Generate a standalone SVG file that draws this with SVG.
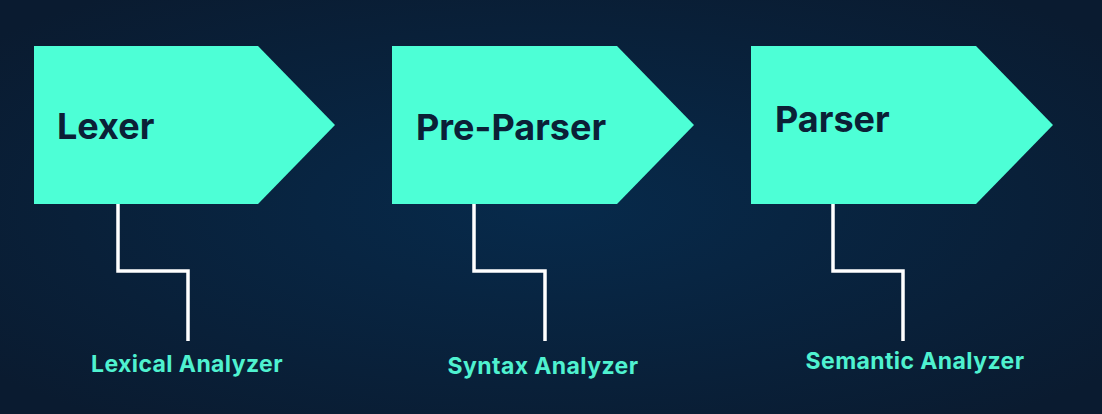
<svg xmlns="http://www.w3.org/2000/svg" width="1102" height="414" viewBox="0 0 1102 414">
<defs>
<radialGradient id="bg" cx="50%" cy="50%" r="65%">
<stop offset="0" stop-color="#072a4b"/>
<stop offset="1" stop-color="#0a1b30"/>
</radialGradient>
<style>
.box{fill:#4dffd6}
.title{font-family:Inter,"Liberation Sans",sans-serif;font-weight:700;font-size:36px;fill:#0b2036}
.sub{font-family:Inter,"Liberation Sans",sans-serif;font-weight:700;font-size:23px;letter-spacing:0.4px;fill:#4ff2d0}
.conn{fill:none;stroke:#ffffff;stroke-width:3.5}
</style>
</defs>
<rect width="1102" height="414" fill="url(#bg)"/>
<g id="connectors">
<path class="conn" d="M118,204 V271 H188 V341"/>
<path class="conn" d="M474,204 V271 H545 V341"/>
<path class="conn" d="M833,204 V271 H903 V341"/>
</g>
<g id="lexer">
<polygon class="box" points="34,46 258,46 335,125 258,204 34,204"/>
<text class="title" x="57" y="139">Lexer</text>
</g>
<g id="preparser">
<polygon class="box" points="392,46 617,46 694,125 617,204 392,204"/>
<text class="title" x="416" y="140">Pre-Parser</text>
</g>
<g id="parser">
<polygon class="box" points="751,46 976,46 1053,125 976,204 751,204"/>
<text class="title" x="775" y="132">Parser</text>
</g>
<g id="lexical">
<text class="sub" x="187" y="372" text-anchor="middle">Lexical Analyzer</text>
</g>
<g id="syntax">
<text class="sub" x="543" y="374" text-anchor="middle">Syntax Analyzer</text>
</g>
<g id="semantic">
<text class="sub" x="915" y="369" text-anchor="middle">Semantic Analyzer</text>
</g>
</svg>
